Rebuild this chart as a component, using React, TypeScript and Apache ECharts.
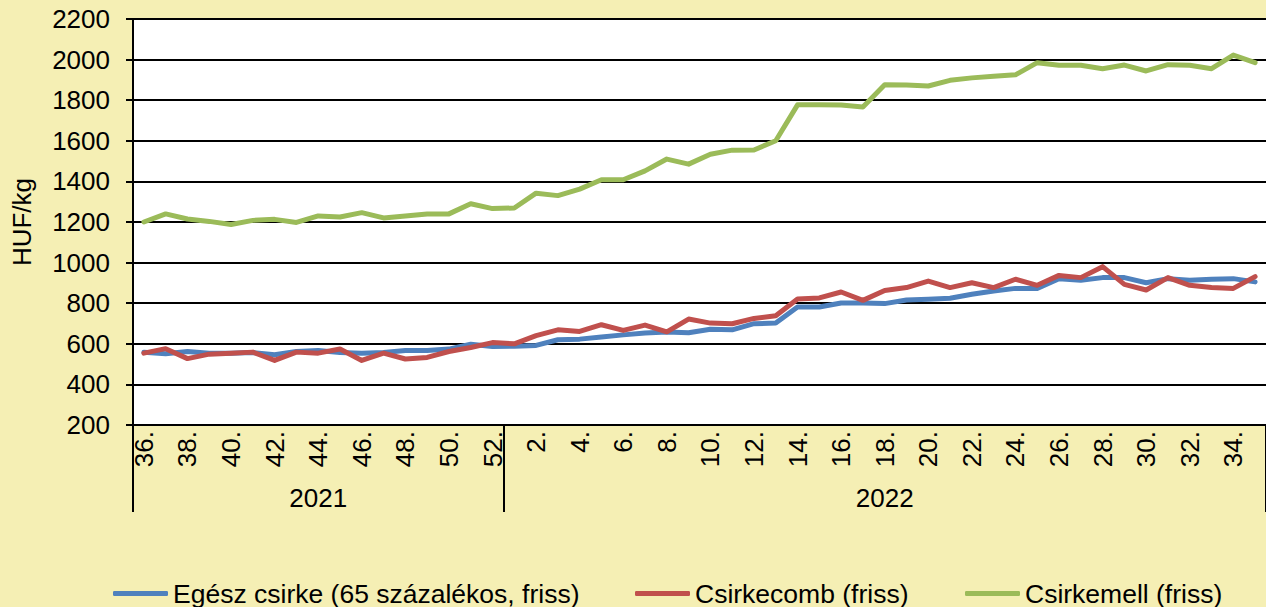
import React, { useEffect, useRef } from "react";
import * as echarts from "echarts";

// ---- data ----
const weeks2021 = [36, 37, 38, 39, 40, 41, 42, 43, 44, 45, 46, 47, 48, 49, 50, 51, 52];
const weeks2022 = [1, 2, 3, 4, 5, 6, 7, 8, 9, 10, 11, 12, 13, 14, 15, 16, 17, 18, 19, 20, 21, 22, 23, 24, 25, 26, 27, 28, 29, 30, 31, 32, 33, 34, 35];
const years = ["2021", "2022"];

const seriesNames = [
  "Egész csirke (65 százalékos, friss)",
  "Csirkecomb (friss)",
  "Csirkemell (friss)",
];

const egeszCsirke = [
  558, 551, 562, 554, 554, 557, 546, 562, 567, 557, 554, 557, 567, 567, 574, 598, 587,
  588, 592, 620, 623, 633, 644, 653, 658, 654, 672, 669, 699, 702, 781, 781, 801, 801,
  798, 816, 819, 824, 844, 860, 873, 873, 921, 913, 926, 926, 901, 921, 913, 918, 921, 905,
];
const csirkecomb = [
  554, 576, 527, 549, 554, 559, 518, 559, 554, 574, 518, 554, 525, 533, 562, 582, 606,
  600, 640, 669, 661, 694, 666, 692, 659, 722, 702, 699, 725, 738, 821, 826, 855, 814,
  863, 877, 909, 877, 901, 877, 918, 888, 937, 926, 980, 893, 865, 926, 888, 877, 873, 931,
];
const csirkemell = [
  1200, 1240, 1215, 1203, 1188, 1208, 1213, 1198, 1230, 1225, 1246, 1220, 1230, 1239, 1240, 1290, 1266,
  1269, 1342, 1330, 1362, 1408, 1408, 1452, 1510, 1485, 1534, 1554, 1555, 1600, 1777, 1777, 1776, 1767,
  1876, 1875, 1870, 1898, 1910, 1918, 1925, 1985, 1972, 1972, 1955, 1973, 1944, 1975, 1972, 1955, 2022, 1985,
];

const yMin = 200;
const yMax = 2200;
const yStep = 200;

const colors = ["#4F81BD", "#C0504D", "#9BBB59"];

// ---- derived ----
const categories = [...weeks2021.map((w) => w + "."), ...weeks2022.map((w) => w + ".")];
const yearOfCategory = [...weeks2021.map(() => years[0]), ...weeks2022.map(() => years[1])];
const groupStarts = [0, weeks2021.length];
const groupMids = [
  Math.floor((weeks2021.length - 1) / 2),
  weeks2021.length + Math.floor((weeks2022.length - 1) / 2),
];

const FONT = "'Liberation Sans', Arial, sans-serif";

export default function App() {
  const ref = useRef<HTMLDivElement>(null);

  useEffect(() => {
    if (!ref.current) return;
    const chart = echarts.init(ref.current, undefined, { renderer: "svg" });
    const values = [egeszCsirke, csirkecomb, csirkemell];
    const legendLefts = [113, 635, 965];

    chart.setOption({
      animation: false,
      backgroundColor: "#F5EFB4",
      textStyle: { fontFamily: FONT },
      grid: {
        left: 133,
        top: 19,
        width: 1136,
        height: 406,
        show: true,
        backgroundColor: "#FFFFFF",
        borderWidth: 0,
        containLabel: false,
      },
      legend: seriesNames.map((n, i) => ({
        data: [n],
        left: legendLefts[i],
        top: 580,
        padding: 0,
        itemGap: 0,
        itemWidth: 55,
        itemHeight: 5,
        icon: "roundRect",
        textStyle: { fontFamily: FONT, fontSize: 26.5, color: "#000" },
      })),
      xAxis: [
        {
          type: "category",
          data: categories,
          position: "bottom",
          boundaryGap: true,
          axisLine: { show: true, lineStyle: { color: "#000", width: 2 } },
          axisTick: { show: false },
          splitLine: { show: false },
          axisLabel: {
            interval: 1,
            rotate: 90,
            margin: 6,
            fontSize: 26,
            color: "#000",
            fontFamily: FONT,
          },
        },
        {
          type: "category",
          data: yearOfCategory,
          position: "bottom",
          boundaryGap: true,
          axisLine: { show: false },
          axisTick: {
            show: true,
            length: 87,
            interval: (idx: number) => groupStarts.includes(idx),
            lineStyle: { color: "#000", width: 2 },
          },
          splitLine: { show: false },
          axisLabel: {
            interval: (idx: number) => groupMids.includes(idx),
            margin: 60,
            fontSize: 26,
            color: "#000",
            fontFamily: FONT,
          },
        },
      ],
      yAxis: {
        type: "value",
        min: yMin,
        max: yMax,
        interval: yStep,
        name: "HUF/kg",
        nameLocation: "middle",
        nameRotate: 90,
        nameGap: 98,
        nameTextStyle: { fontSize: 26, color: "#000", fontFamily: FONT },
        axisLine: { show: true, lineStyle: { color: "#000", width: 2 } },
        axisTick: { show: true, length: 7, lineStyle: { color: "#000", width: 2 } },
        splitLine: { show: true, lineStyle: { color: "#000", width: 2 } },
        axisLabel: {
          margin: 23,
          fontSize: 26,
          color: "#000",
          fontFamily: FONT,
          formatter: (v: number) => String(v),
        },
      },
      series: seriesNames.map((n, i) => ({
        name: n,
        type: "line",
        xAxisIndex: 0,
        data: values[i],
        symbol: "none",
        color: colors[i],
        lineStyle: { color: colors[i], width: 5, join: "round", cap: "round" },
      })),
    });

    return () => chart.dispose();
  }, []);

  return (
    <div
      ref={ref}
      style={{ position: "absolute", left: 0, top: 0, width: 1266, height: 607 }}
    />
  );
}
